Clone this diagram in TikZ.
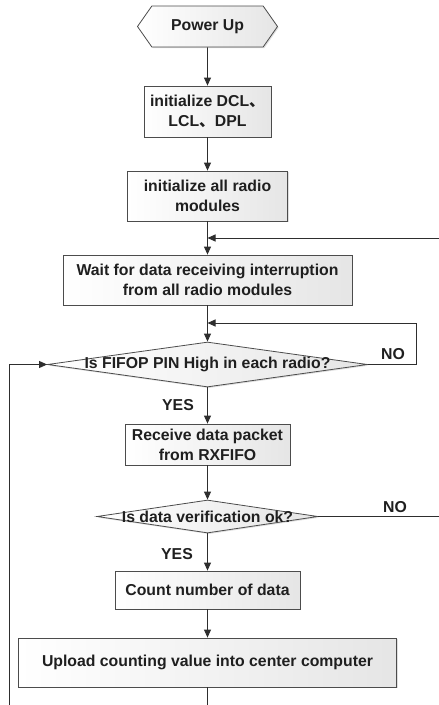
\documentclass[tikz,border=0pt]{standalone}
\usepackage{fontspec}
\setmainfont{Liberation Sans}
\newfontfamily\cjk{Noto Sans CJK SC}
\usetikzlibrary{arrows.meta,shapes.geometric,shapes.symbols,shadows}
\newcommand\dunhao{{\cjk 、}}

\begin{document}
\begin{tikzpicture}[x=1pt,y=-1pt,
  lbl/.style={font=\fontsize{15.8}{20}\selectfont\bfseries, text=black!88, inner sep=0pt},
  wire/.style={draw=black!82, line width=0.9pt},
  arr/.style={wire, -{Triangle[length=8pt,width=7pt]}},
  shadedfill/.style={draw=black!70, line width=0.8pt, left color=white, right color=black!10,
    drop shadow={shadow xshift=1.2pt, shadow yshift=-1.2pt, fill=black!25}},
  box/.style={shadedfill, rectangle, align=center, lbl},
  decision/.style={shadedfill, diamond, aspect=1, inner sep=0pt},
  terminal/.style={shadedfill, signal, signal to=west and east, signal pointer angle=110, align=center, lbl}
]
\useasboundingbox (0,0) rectangle (439,705);

% process blocks
\node[terminal, minimum width=140pt, minimum height=41pt] (pu) at (207.5,26.5) {Power Up};
\node[box, minimum width=127pt, minimum height=51pt] (b1) at (207.5,111.5) {initialize DCL\dunhao\\LCL\dunhao DPL};
\node[box, minimum width=160pt, minimum height=50pt] (b2) at (207.5,196) {initialize all radio\\modules};
\node[box, minimum width=289pt, minimum height=50pt] (b3) at (207.5,280) {Wait for data receiving interruption\\from all radio modules};
\node[decision, minimum width=320pt, minimum height=45pt] (d1) at (207.5,364.5) {};
\node[lbl] (d1t) at (d1) {Is FIFOP PIN High in each radio?};
\node[box, minimum width=165pt, minimum height=41pt] (b4) at (207.5,444.5) {Receive data packet\\from RXFIFO};
\node[decision, minimum width=221pt, minimum height=33pt] (d2) at (207.5,516.5) {};
\node[lbl] (d2t) at (d2) {Is data verification ok?};
\node[box, minimum width=185pt, minimum height=38pt] (b5) at (207.5,590) {Count number of data};
\node[box, minimum width=378pt, minimum height=49pt] (b6) at (207.5,662.5) {Upload counting value into center computer};

% branch labels
\node[lbl] (no1) at (393,354) {NO};
\node[lbl] (yes1) at (178,405) {YES};
\node[lbl] (no2) at (395,507) {NO};
\node[lbl] (yes2) at (177,554) {YES};

% loose ends at the picture border
\coordinate (rin) at (439,238);
\coordinate (nor) at (416,323);
\coordinate (lin) at (9.5,705);
\coordinate (rout) at (439,516.5);
\coordinate (bout) at (207.5,705);

% main flow
\draw[arr] (pu) -- (b1);
\draw[arr] (b1) -- (b2);
\draw[arr] (b2) -- (b3);
\draw[arr] (b3) -- (d1);
\draw[arr] (d1) -- (b4);
\draw[arr] (b4) -- (d2);
\draw[arr] (d2) -- (b5);
\draw[arr] (b5) -- (b6);
\draw[wire] (b6) -- (bout);

% loops and exits
\draw[arr] (rin) -- (rin -| b3);
\draw[arr] (d1.east) -| (nor) -- (nor -| d1);
\draw[arr] (lin) |- (d1.west);
\draw[wire] (d2.east) -- (rout);
\end{tikzpicture}
\end{document}
